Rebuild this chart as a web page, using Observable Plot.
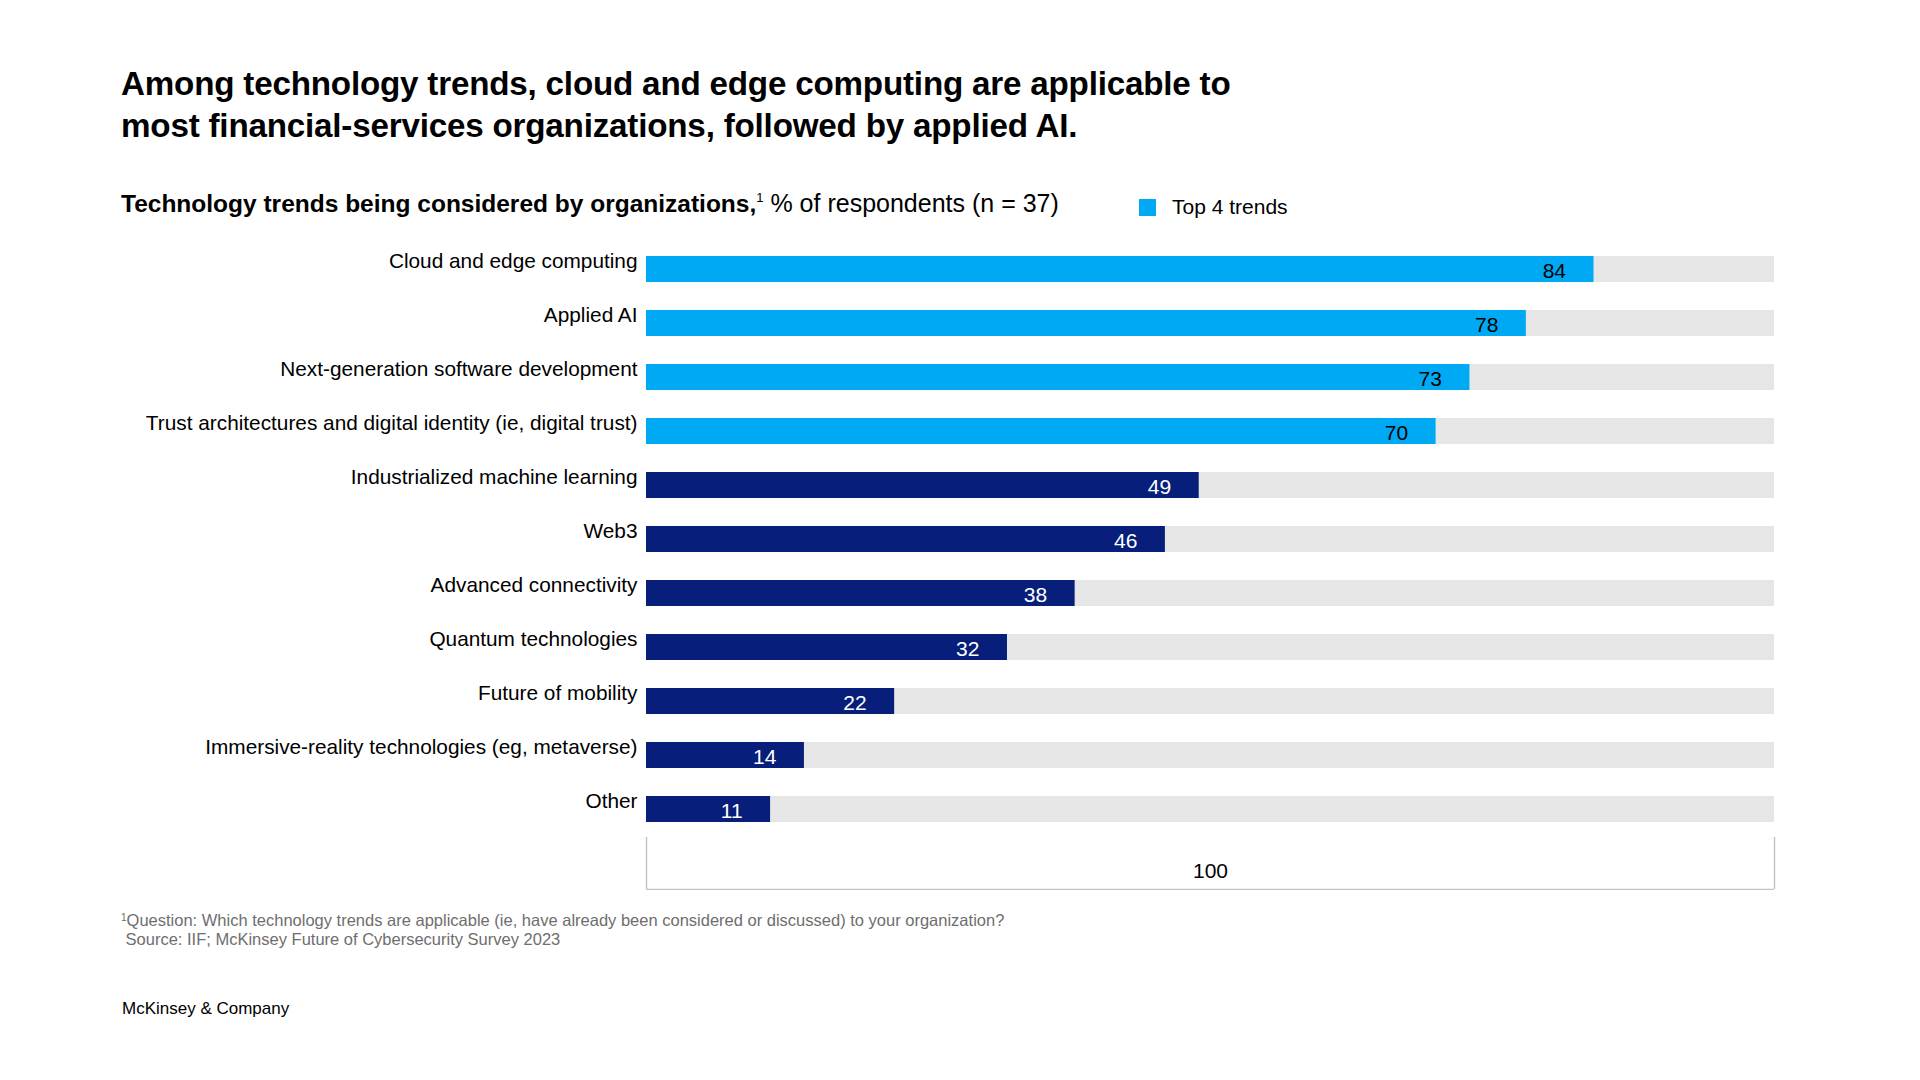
<!DOCTYPE html>
<html>
<head>
<meta charset="utf-8">
<script src="https://cdn.jsdelivr.net/npm/d3@7"></script>
<script src="https://cdn.jsdelivr.net/npm/@observablehq/plot@0.6"></script>
<style>
  html, body { margin: 0; padding: 0; background: #fff; }
  #page { position: relative; width: 1920px; height: 1080px; font-family: "Liberation Sans", Arial, sans-serif; color: #000; overflow: hidden; }
  #title { position: absolute; left: 121px; top: 63px; font-size: 33.2px; line-height: 42px; font-weight: bold; letter-spacing: -0.2px; }
  #subtitle { position: absolute; left: 121px; top: 188px; font-size: 25px; line-height: 30px; white-space: nowrap; }
  #subtitle b { font-weight: bold; font-size: 24.5px; }
  #subtitle sup { font-size: 13px; vertical-align: 10px; line-height: 0; }
  #legend { position: absolute; left: 1139px; top: 196px; font-size: 21px; line-height: 22px; display: flex; align-items: center; }
  #legend .sw { width: 17px; height: 17px; background: #00A9F4; margin-right: 16px; }
  #chart { position: absolute; left: 0; top: 230px; }
  #bracket { position: absolute; left: 0; top: 837px; }
  #foot { position: absolute; left: 121px; top: 911px; font-size: 16.5px; line-height: 19px; color: #6e6e6e; }
  #foot sup { font-size: 10px; vertical-align: 5px; line-height: 0; }
  #brand { position: absolute; left: 122px; top: 999px; font-size: 17px; line-height: 20px; color: #000; }
</style>
</head>
<body>
<div id="page">
  <div id="title">Among technology trends, cloud and edge computing are applicable to<br>most financial-services organizations, followed by applied AI.</div>
  <div id="subtitle"><b>Technology trends being considered by organizations,</b><sup>1</sup> % of respondents (n = 37)</div>
  <div id="legend"><div class="sw"></div><span>Top 4 trends</span></div>
  <div id="chart"></div>
  <div id="bracket"></div>
  <div id="foot"><sup>1</sup>Question: Which technology trends are applicable (ie, have already been considered or discussed) to your organization?<br>&nbsp;Source: IIF; McKinsey Future of Cybersecurity Survey 2023</div>
  <div id="brand">McKinsey &amp; Company</div>
</div>
<script>
const categories = [
  "Cloud and edge computing",
  "Applied AI",
  "Next-generation software development",
  "Trust architectures and digital identity (ie, digital trust)",
  "Industrialized machine learning",
  "Web3",
  "Advanced connectivity",
  "Quantum technologies",
  "Future of mobility",
  "Immersive-reality technologies (eg, metaverse)",
  "Other"
];
const values = [84, 78, 73, 70, 49, 46, 38, 32, 22, 14, 11];
const topCount = 4;
const totalValue = 100;
const totalLabel = "100";

const colorTop = "#00A9F4";
const colorRest = "#071F7A";

const data = categories.map((c, i) => ({category: c, value: values[i], top: i < topCount}));

const W = 1920, mL = 646, mR = 146;

const chart = Plot.plot({
  width: W,
  height: 607,
  marginLeft: mL,
  marginRight: mR,
  marginTop: 11,
  marginBottom: 0,
  style: {fontFamily: "'Liberation Sans', Arial, sans-serif", background: "transparent"},
  x: {domain: [0, totalValue], axis: null},
  y: {domain: categories, paddingInner: 0.52, paddingOuter: 0.26, label: null},
  marks: [
    Plot.barX(data, {y: "category", x: totalValue, fill: "#e6e6e6"}),
    Plot.barX(data, {y: "category", x: "value", fill: d => d.top ? colorTop : colorRest}),
    Plot.text(data, {y: "category", x: "value", text: d => String(d.value), textAnchor: "end", dx: -28, dy: 2,
      fill: d => d.top ? "#000" : "#fff", fontSize: 21}),
    Plot.axisY({tickSize: 0, tickPadding: 9, dy: -8, fontSize: 20.8, fill: "#000", label: null})
  ]
});
document.getElementById("chart").appendChild(chart);

const bracket = Plot.plot({
  width: W,
  height: 53,
  marginLeft: mL,
  marginRight: mR,
  marginTop: 0,
  marginBottom: 1,
  style: {fontFamily: "'Liberation Sans', Arial, sans-serif", background: "transparent"},
  x: {domain: [0, totalValue], axis: null},
  y: {domain: [0, 1], axis: null},
  marks: [
    Plot.ruleX([0, totalValue], {y1: 0, y2: 1, stroke: "#c4c4c4", strokeWidth: 1.5}),
    Plot.ruleY([0], {x1: 0, x2: totalValue, stroke: "#c4c4c4", strokeWidth: 1.5}),
    Plot.text([totalLabel], {x: totalValue / 2, y: 0.36, text: d => d, fontSize: 21, fill: "#000"})
  ]
});
document.getElementById("bracket").appendChild(bracket);
</script>
</body>
</html>
